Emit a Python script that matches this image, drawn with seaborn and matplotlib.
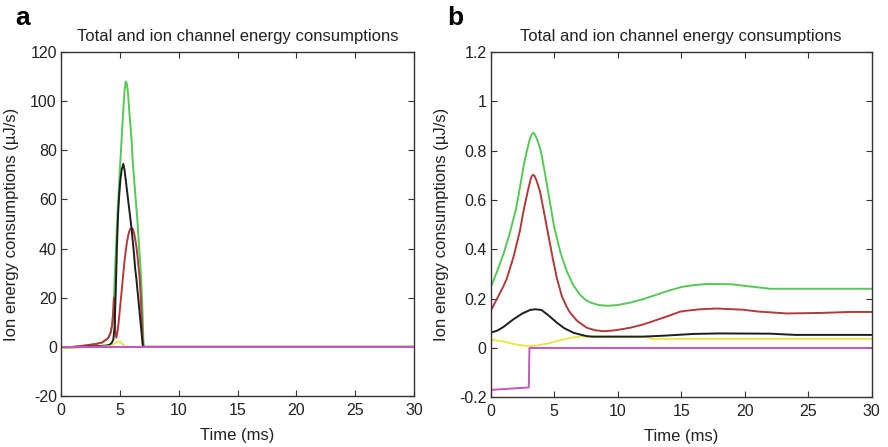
import matplotlib
matplotlib.use("Agg")
import matplotlib.pyplot as plt
import seaborn as sns
import pandas as pd
from matplotlib.ticker import FuncFormatter, MultipleLocator

# ---------------- data: panel a ----------------
a_t_green = [0, 1, 2, 3, 3.5, 4.0, 4.2, 4.35, 4.45, 4.5, 4.6, 4.7, 4.8, 4.9, 5.0, 5.1, 5.2, 5.3,
             5.4, 5.5, 5.6, 5.7, 5.8, 5.9, 6.0, 6.1, 6.2, 6.3, 6.4, 6.5, 6.6, 6.7, 6.8, 6.9, 7.0,
             7.05, 10, 20, 30]
a_green = [-0.5, 0.0, 0.5, 1.2, 1.8, 3.5, 5.5, 9, 15, 20, 32, 43, 54, 63, 72, 80, 89, 97,
           104, 108, 107, 103, 96, 90, 84, 75, 69, 63, 57, 51, 43, 36, 29, 18, 3,
           0, 0, 0, 0]

a_t_red = [0, 1, 2, 3, 3.5, 4.0, 4.2, 4.35, 4.45, 4.5, 4.55, 4.62, 4.7, 4.8, 4.9, 5.0, 5.1, 5.2,
           5.3, 5.4, 5.5, 5.6, 5.7, 5.8, 5.9, 6.0, 6.1, 6.2, 6.3, 6.4, 6.5, 6.6, 6.7, 6.8, 6.9,
           6.95, 7.0, 10, 20, 30]
a_red = [-0.5, 0.0, 0.5, 1.2, 1.8, 3.5, 5.5, 9, 15, 20, 14, 6, 3.7, 6, 10, 15, 20, 25,
         30, 35, 39, 42.5, 45, 47, 48, 48.3, 48, 46.5, 44, 41, 37, 32, 27, 18, 7,
         2, 0, 0, 0, 0]

a_t_black = [0, 1, 2, 3, 3.8, 4.1, 4.3, 4.45, 4.55, 4.65, 4.75, 4.85, 4.95, 5.05, 5.15, 5.3,
             5.4, 5.5, 5.6, 5.7, 5.8, 5.9, 6.0, 6.1, 6.2, 6.3, 6.4, 6.5, 6.6, 6.7, 6.8, 6.9,
             6.95, 7.0, 10, 20, 30]
a_black = [-0.3, -0.2, 0.0, 0.3, 0.5, 0.8, 1.5, 3, 8, 22, 40, 54, 62, 68, 72, 74.5,
           72, 68, 64, 60, 56, 52, 48, 43, 38, 32, 28, 23, 18, 13, 8, 3,
           0.5, 0, 0, 0, 0]

a_t_yellow = [0, 1, 2, 3, 4.3, 4.6, 4.87, 5.1, 5.3, 5.5, 5.7, 10, 20, 30]
a_yellow = [-0.4, -0.3, -0.1, 0.0, 0.3, 1.5, 2.2, 1.8, 0.8, 0.1, 0, 0, 0, 0]

a_t_magenta = [0, 30]
a_magenta = [0, 0]

# ---------------- data: panel b ----------------
b_t_green = [0, 0.5, 1.0, 1.5, 2.0, 2.3, 2.6, 2.85, 3.1, 3.25, 3.35, 3.45, 3.6, 3.8, 4.0, 4.3,
             4.6, 5.0, 5.5, 6.0, 6.5, 7.0, 7.4, 7.8, 8.5, 9.2, 10, 11, 12, 13, 14, 15, 16, 17,
             18, 19, 20, 21, 22, 25, 30]
b_green = [0.245, 0.31, 0.38, 0.465, 0.565, 0.65, 0.74, 0.80, 0.85, 0.868, 0.873, 0.868, 0.852,
           0.825, 0.785, 0.70, 0.61, 0.49, 0.385, 0.31, 0.255, 0.218, 0.198, 0.185, 0.174,
           0.171, 0.174, 0.184, 0.198, 0.215, 0.232, 0.247, 0.255, 0.259, 0.259, 0.258,
           0.252, 0.246, 0.240, 0.240, 0.240]

b_t_red = [0, 0.5, 1.0, 1.26, 1.8, 2.3, 2.6, 2.96, 3.15, 3.25, 3.35, 3.45, 3.6, 3.88, 4.2, 4.54,
           4.9, 5.2, 5.6, 6.0, 6.24, 6.8, 7.56, 8.2, 8.87, 9.5, 10.2, 10.97, 12, 12.8, 14, 14.9,
           15.4, 16.5, 17.8, 19.9, 21, 23.3, 26, 28.3, 30]
b_red = [0.15, 0.20, 0.25, 0.28, 0.37, 0.475, 0.56, 0.645, 0.685, 0.698, 0.702, 0.698, 0.68,
         0.635, 0.55, 0.457, 0.36, 0.285, 0.21, 0.165, 0.144, 0.11, 0.082, 0.072, 0.068,
         0.07, 0.075, 0.082, 0.095, 0.109, 0.13, 0.147, 0.151, 0.157, 0.16, 0.155, 0.148,
         0.14, 0.142, 0.146, 0.146]

b_t_black = [0, 0.5, 1.0, 1.78, 2.5, 3.1, 3.5, 4.0, 4.6, 5.2, 5.8, 6.5, 7.0, 7.56, 8, 12,
             13.7, 16, 18, 22, 24, 30]
b_black = [0.062, 0.07, 0.085, 0.116, 0.14, 0.154, 0.157, 0.154, 0.13, 0.103, 0.08, 0.062,
           0.055, 0.048, 0.046, 0.046, 0.05, 0.057, 0.059, 0.058, 0.053, 0.053]

b_t_yellow = [0, 1, 2, 2.8, 3.5, 4.5, 5.5, 6.5, 7.0, 8, 12.4, 12.6, 30]
b_yellow = [0.034, 0.026, 0.014, 0.008, 0.009, 0.018, 0.032, 0.043, 0.046, 0.046, 0.045,
            0.037, 0.037]

b_t_magenta = [0, 3.0, 3.05, 30]
b_magenta = [-0.17, -0.16, 0.0, 0.0]

title_text = "Total and ion channel energy consumptions"
xlabel_text = "Time (ms)"
ylabel_text = "Ion energy consumptions (\u00b5J/s)"
panel_labels = ["a", "b"]

# ---------------- styling ----------------
sns.set_theme(style="white")
plt.rcParams["font.family"] = ["Liberation Sans", "DejaVu Sans"]
plt.rcParams["axes.unicode_minus"] = False

C_GREEN = "#55c955"
C_RED = "#b23a3a"
C_BLACK = "#1e1e1e"
C_YELLOW = "#e8e64a"
C_MAGENTA = "#c455c4"
TXT = "#222222"

fig = plt.figure(figsize=(8.88, 4.47), dpi=100)
axA = fig.add_axes([61 / 888, 1 - 396 / 447, (414 - 61) / 888, (396 - 52) / 447])
axB = fig.add_axes([490.7 / 888, 1 - 397.3 / 447, (871.7 - 490.7) / 888, (397.3 - 52) / 447])


def draw(ax, series):
    for t, y, c in series:
        df = pd.DataFrame({"t": t, "v": y})
        sns.lineplot(data=df, x="t", y="v", ax=ax, color=c, linewidth=1.4,
                     estimator=None, sort=False, legend=False)


draw(axA, [(a_t_green, a_green, C_GREEN), (a_t_red, a_red, C_RED),
           (a_t_black, a_black, C_BLACK), (a_t_yellow, a_yellow, C_YELLOW),
           (a_t_magenta, a_magenta, C_MAGENTA)])
draw(axB, [(b_t_green, b_green, C_GREEN), (b_t_red, b_red, C_RED),
           (b_t_yellow, b_yellow, C_YELLOW), (b_t_black, b_black, C_BLACK),
           (b_t_magenta, b_magenta, C_MAGENTA)])

fmt = FuncFormatter(lambda v, p: f"{round(v, 6):g}")

for ax, ylim, ystep in [(axA, (-20, 120), 20), (axB, (-0.2, 1.2), 0.2)]:
    ax.set_xlim(0, 30)
    ax.set_ylim(*ylim)
    ax.xaxis.set_major_locator(MultipleLocator(5))
    ax.yaxis.set_major_locator(MultipleLocator(ystep))
    ax.yaxis.set_major_formatter(fmt)
    ax.xaxis.set_major_formatter(fmt)
    ax.tick_params(direction="in", length=4, width=0.8, colors="#333333",
                   top=True, right=True, bottom=True, left=True,
                   labelsize=11.5, labelcolor=TXT)
    ax.tick_params(axis="x", pad=5)
    ax.tick_params(axis="y", pad=3)
    for s in ax.spines.values():
        s.set_visible(True)
        s.set_color("#333333")
        s.set_linewidth(1.0)
    ax.set_title(title_text, fontsize=12, color=TXT, pad=8)
    ax.set_xlabel(xlabel_text, fontsize=12, color=TXT, labelpad=7)
    ax.set_ylabel(ylabel_text, fontsize=12, color=TXT)
    ax.set_facecolor("white")

axA.yaxis.set_label_coords(-0.12, 0.5)
axB.yaxis.set_label_coords(-0.11, 0.5)

fig.text(15 / 888, 1 - 18 / 447, panel_labels[0], fontsize=19, fontweight="bold",
         color="black", va="center", ha="left")
fig.text(447 / 888, 1 - 18 / 447, panel_labels[1], fontsize=19, fontweight="bold",
         color="black", va="center", ha="left")

fig.savefig("out.png", dpi=100, facecolor="white")
